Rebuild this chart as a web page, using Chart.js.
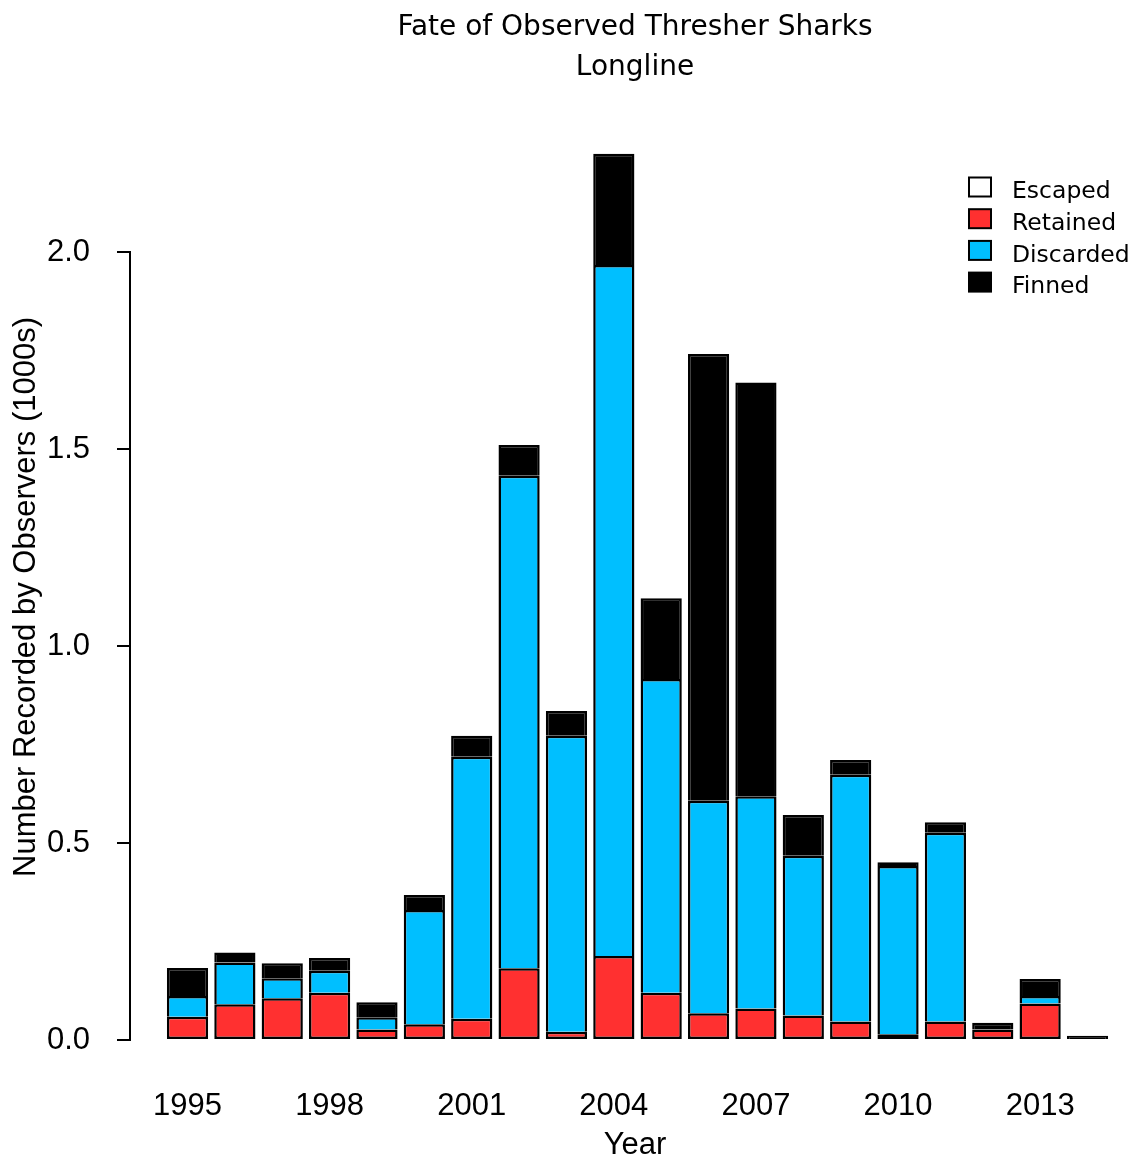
<!DOCTYPE html>
<html>
<head>
<meta charset="utf-8">
<script src="https://cdn.jsdelivr.net/npm/chart.js@4.4.1/dist/chart.umd.min.js"></script>
<style>
html,body{margin:0;padding:0;background:#ffffff;}
canvas{display:block;}
</style>
</head>
<body>
<canvas id="c" width="1140" height="1162"></canvas>
<script>
// ---- data (numbers recorded, in 1000s) ----
const years = [1995,1996,1997,1998,1999,2000,2001,2002,2003,2004,2005,2006,2007,2008,2009,2010,2011,2012,2013,2014];
const escaped   = [0,0,0,0,0,0,0,0,0,0,0,0,0,0,0,0,0,0,0,0];
const retained  = [0.059,0.091,0.106,0.120,0.027,0.040,0.054,0.182,0.021,0.213,0.120,0.068,0.080,0.062,0.047,0.015,0.047,0.027,0.093,0.000];
const discarded = [0.053,0.106,0.051,0.056,0.031,0.290,0.665,1.250,0.751,1.754,0.796,0.539,0.539,0.406,0.626,0.427,0.479,0.000,0.019,0.000];
const finned    = [0.071,0.025,0.038,0.032,0.038,0.038,0.053,0.078,0.063,0.282,0.205,1.134,1.050,0.103,0.038,0.009,0.027,0.017,0.043,0.011];
const seriesNames = ['Escaped','Retained','Discarded','Finned'];
const xTicks = [1995,1998,2001,2004,2007,2010,2013];
const yTicks = [0.0,0.5,1.0,1.5,2.0];
const titleLines = ['Fate of Observed Thresher Sharks','Longline'];

const toXY = arr => arr.map((v,i)=>({x: years[i], y: v}));
const mainFont = 'Liberation Sans';

const yAxisLine = {
  id: 'yAxisLine',
  afterDraw(chart){
    const y = chart.scales.y, ctx = chart.ctx;
    const x = chart.chartArea.left;
    ctx.save();
    ctx.strokeStyle = '#000';
    ctx.lineWidth = 2;
    ctx.beginPath();
    ctx.moveTo(x, y.getPixelForValue(yTicks[0]) + 1);
    ctx.lineTo(x, y.getPixelForValue(yTicks[yTicks.length-1]) - 1);
    ctx.stroke();
    ctx.restore();
  }
};

const rLegend = {
  id: 'rLegend',
  afterDraw(chart){
    const ctx = chart.ctx;
    ctx.save();
    ctx.font = '23.5px "DejaVu Sans"';
    ctx.textBaseline = 'middle';
    ctx.textAlign = 'left';
    chart.data.datasets.forEach((ds,i)=>{
      const cy = 187 + i*31.7;
      ctx.fillStyle = ds.backgroundColor;
      ctx.fillRect(969, cy-9.5, 22, 19);
      ctx.strokeStyle = '#000';
      ctx.lineWidth = 2;
      ctx.strokeRect(969, cy-9.5, 22, 19);
      ctx.fillStyle = '#000';
      ctx.fillText(ds.label, 1012, cy+5);
    });
    ctx.restore();
  }
};

const colors = ['#ffffff','#ff3030','#00bfff','#000000'];
const values = [escaped, retained, discarded, finned];

new Chart(document.getElementById('c'), {
  type: 'bar',
  data: {
    datasets: values.map((arr,i)=>({
      label: seriesNames[i],
      data: toXY(arr),
      backgroundColor: colors[i],
      borderColor: '#000',
      borderWidth: 2.5,
      borderSkipped: i === 1 ? false : 'start',
      barPercentage: 0.87,
      categoryPercentage: 1.0
    }))
  },
  options: {
    responsive: false,
    animation: false,
    layout: { padding: 0 },
    plugins: {
      legend: { display: false },
      tooltip: { enabled: false },
      title: {
        display: true,
        text: titleLines,
        fullSize: false,
        color: '#000',
        font: { family: 'DejaVu Sans', size: 28, weight: 'normal', lineHeight: 40/28 },
        padding: { top: 8, bottom: 30.4 }
      }
    },
    scales: {
      x: {
        type: 'linear',
        stacked: true,
        offset: false,
        min: 1993.786,
        max: 2015.108,
        afterFit(s){ s.height = 86.5; },
        afterBuildTicks(s){ s.ticks = xTicks.map(v=>({value:v})); },
        ticks: {
          callback: v => String(v),
          font: { family: mainFont, size: 31 },
          color: '#000',
          padding: 12,
          autoSkip: false,
          maxRotation: 0
        },
        grid: { display: false, drawTicks: false },
        border: { display: false },
        title: {
          display: true,
          text: 'Year',
          color: '#000',
          font: { family: mainFont, size: 31, lineHeight: 1.07 },
          padding: { top: 0, bottom: 0 }
        }
      },
      y: {
        stacked: true,
        min: -0.09,
        max: 2.339,
        afterFit(s){ s.width = 130; },
        afterBuildTicks(s){ s.ticks = yTicks.map(v=>({value:v})); },
        ticks: {
          callback: v => Number(v).toFixed(1),
          font: { family: mainFont, size: 31 },
          color: '#000',
          padding: 27
        },
        grid: { drawOnChartArea: false, drawTicks: true, tickLength: 13, color: '#000', lineWidth: 2 },
        border: { display: false },
        title: {
          display: true,
          text: 'Number Recorded by Observers (1000s)',
          color: '#000',
          font: { family: mainFont, size: 31 },
          padding: { top: 8, bottom: 0 }
        }
      }
    }
  },
  plugins: [yAxisLine, rLegend]
});
</script>
</body>
</html>
